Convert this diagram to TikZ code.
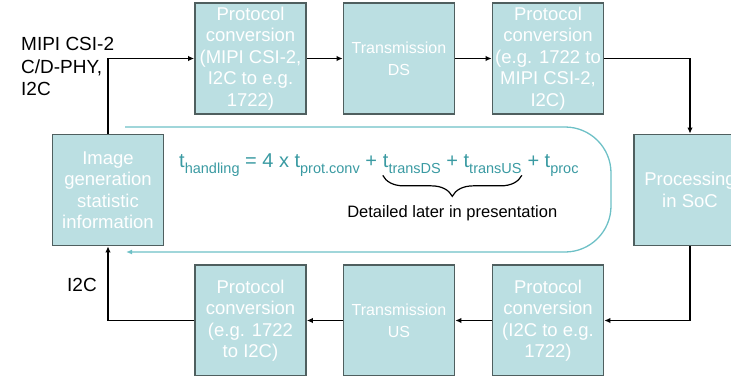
\documentclass[tikz,border=0pt]{standalone}
\usepackage{fontspec}
\setmainfont{Liberation Sans}
\usetikzlibrary{arrows.meta,decorations.pathreplacing}
\definecolor{boxfill}{HTML}{BBDFE2}
\definecolor{boxedge}{HTML}{4F5F5F}
\definecolor{loopteal}{HTML}{6DC0C6}
\definecolor{formteal}{HTML}{3A9AA2}
\newcommand{\sbs}[1]{\raisebox{-0.3em}{\fontsize{14.5}{14.5}\selectfont #1}}
\begin{document}
\begin{tikzpicture}[x=1pt,y=-1pt,
  block/.style={draw=boxedge,line width=1.8pt,fill=boxfill,text=white,
    minimum width=111pt,minimum height=111pt,inner sep=1pt,align=center,
    font=\fontsize{18.5}{21.5}\selectfont},
  flow/.style={draw=black,line width=1.5pt,-{Latex[length=6pt,width=5.5pt]}},
  lbl/.style={inner sep=0pt,align=left,font=\fontsize{19}{22.5}\selectfont}]
\useasboundingbox (0,0) rectangle (731,375);
\clip (0,0) rectangle (731,375);

% blocks of the processing loop
\node[block] (img) at (108,190) {Image\\generation\\statistic\\information};
\node[block,font=\fontsize{16}{22}\selectfont] (tds) at (399,58.5) {Transmission\\DS};
\node[block] (p1)  at (250.5,58.5) {Protocol\\conversion\\(MIPI CSI-2,\\I2C to e.g.\\1722)};
\node[block] (p2)  at (548,58.5) {Protocol\\conversion\\(e.g. 1722 to\\MIPI CSI-2,\\I2C)};
\node[block,minimum width=112pt] (soc) at (690,190) {Processing\\in SoC};
\node[block] (p3)  at (548,320.5) {Protocol\\conversion\\(I2C to e.g.\\1722)};
\node[block,font=\fontsize{16}{22}\selectfont] (tus) at (399,320.5) {Transmission\\US};
\node[block] (p4)  at (250.5,320.5) {Protocol\\conversion\\(e.g. 1722\\to I2C)};

% data flow
\draw[flow] (img.north) |- (p1.west);
\draw[flow] (p1) -- (tds);
\draw[flow] (tds) -- (p2);
\draw[flow] (p2.east) -| (soc.north);
\draw[flow] (soc.south) |- (p3.east);
\draw[flow] (p3) -- (tus);
\draw[flow] (tus) -- (p4);
\draw[flow] (p4.west) -| (img.south);

% interface labels
\node[lbl,anchor=north west] (mipi) at (21,37.5) {MIPI CSI-2\\C/D-PHY,\\I2C};
\node[lbl,anchor=base west] (i2c) at (67,291) {I2C};

% handling-time loop
\coordinate (ls) at (125,127);
\coordinate (lr1) at (611,127);
\coordinate (lr2) at (611,252);
\coordinate (le) at (126,252);
\draw[loopteal,line width=1.3pt,rounded corners=46pt,-{Latex[length=6pt,width=5pt]}]
  (ls) -- (lr1) -- (lr2) -- (le);

% handling-time formula
\begin{scope}[every node/.style={inner sep=0pt,text=formteal,font=\fontsize{20}{20}\selectfont}]
\node[anchor=base west] (f1) at (179,167) {t\sbs{handling} = 4 x t\sbs{prot.conv} +};
\node[anchor=base west,xshift=5.5pt] (f2) at (f1.base east) {t\sbs{transDS} + t\sbs{transUS}};
\node[anchor=base west,xshift=5.5pt] (f3) at (f2.base east) {+ t\sbs{proc}};
\end{scope}
\draw[line width=1.2pt,decorate,decoration={brace,mirror,amplitude=21pt}]
  ([yshift=-2pt]f2.south west) -- ([yshift=-2pt]f2.south east)
  node[midway,anchor=base,yshift=-42pt,inner sep=0pt,font=\fontsize{16.5}{16.5}\selectfont] (det) {Detailed later in presentation};
\end{tikzpicture}
\end{document}
